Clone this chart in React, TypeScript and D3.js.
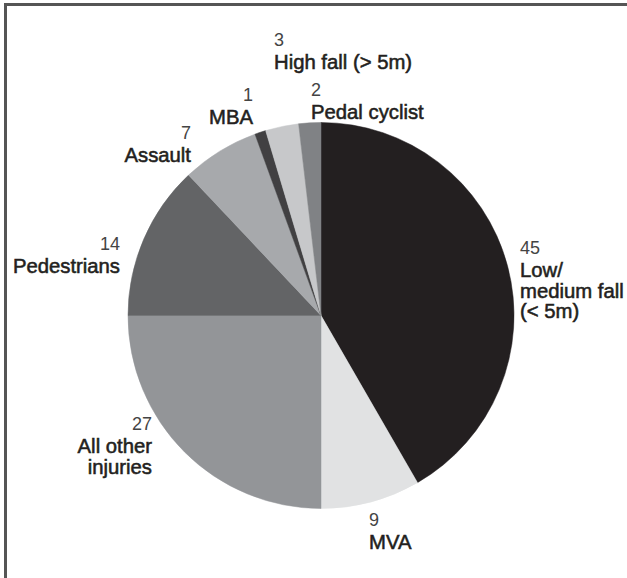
import React, { useEffect, useRef } from "react";
import * as d3 from "d3";

// injury categories, clockwise from 12 o'clock
const categories = [
  "Low/medium fall (< 5m)",
  "MVA",
  "All other injuries",
  "Pedestrians",
  "Assault",
  "MBA",
  "High fall (> 5m)",
  "Pedal cyclist",
];
const values = [45, 9, 27, 14, 7, 1, 3, 2];
const sliceColors = [
  "#231f20",
  "#e1e2e3",
  "#939598",
  "#636466",
  "#a7a9ac",
  "#414042",
  "#c7c8ca",
  "#808285",
];
// how each label is broken into lines
const labelLines = [
  ["Low/", "medium fall", "(< 5m)"],
  ["MVA"],
  ["All other", "injuries"],
  ["Pedestrians"],
  ["Assault"],
  ["MBA"],
  ["High fall (> 5m)"],
  ["Pedal cyclist"],
];

// label placement: x, baseline of number, anchor
const labelPos: [number, number, string][] = [
  [520, 254, "start"],
  [369, 526, "start"],
  [152, 430, "end"],
  [120, 250, "end"],
  [191, 139, "end"],
  [253, 101, "end"],
  [274, 46, "start"],
  [311, 96, "start"],
];

const W = 627;
const H = 578;

const App = () => {
  const ref = useRef<SVGSVGElement>(null);

  useEffect(() => {
    const svg = d3.select(ref.current);
    svg.selectAll("*").remove();

    // frame (open to right and bottom)
    svg
      .append("rect")
      .attr("x", 5.5)
      .attr("y", 4.5)
      .attr("width", W + 20)
      .attr("height", H + 20)
      .attr("fill", "none")
      .attr("stroke", "#555")
      .attr("stroke-width", 3);

    const cx = 321,
      cy = 315.5,
      r = 193;

    const data = categories.map((c, i) => ({ name: c, value: values[i], i }));
    const pie = d3
      .pie<any>()
      .sort(null)
      .value((d) => d.value)
      .startAngle(0)
      .endAngle(2 * Math.PI);
    const arc = d3.arc<any>().innerRadius(0).outerRadius(r);

    const g = svg.append("g").attr("transform", `translate(${cx},${cy})`);
    g.selectAll("path")
      .data(pie(data))
      .enter()
      .append("path")
      .attr("d", arc)
      .attr("fill", (d) => sliceColors[d.data.i])
      .attr("stroke", (d) => sliceColors[d.data.i])
      .attr("stroke-width", 0.5);

    const labels = svg
      .selectAll("g.lbl")
      .data(data)
      .enter()
      .append("g")
      .attr("class", "lbl");

    labels.each(function (d) {
      const [x, y, anchor] = labelPos[d.i];
      const el = d3.select(this);
      el.append("text")
        .attr("x", x)
        .attr("y", y)
        .attr("text-anchor", anchor)
        .attr("font-family", "'Liberation Sans', Arial, sans-serif")
        .attr("font-size", 18)
        .attr("fill", "#444")
        .text(d.value);
      labelLines[d.i].forEach((line, k) => {
        el.append("text")
          .attr("x", x)
          .attr("y", y + 23 + k * 20.5)
          .attr("text-anchor", anchor)
          .attr("font-family", "'Liberation Sans', Arial, sans-serif")
          .attr("font-size", 20.3)
          .attr("fill", "#231f20")
          .attr("stroke", "#231f20")
          .attr("stroke-width", 0.55)
          .text(line);
      });
    });
  }, []);

  return (
    <svg
      ref={ref}
      width={W}
      height={H}
      style={{ position: "absolute", left: 0, top: 0, background: "#fff" }}
    />
  );
};

export default App;
